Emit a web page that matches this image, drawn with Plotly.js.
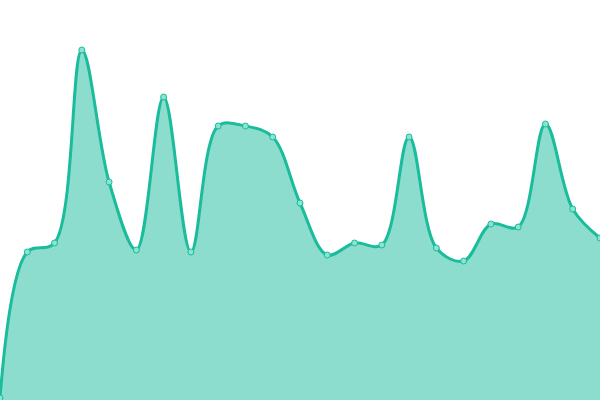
<!DOCTYPE html>
<html>
<head>
<meta charset="utf-8">
<script src="https://cdn.plot.ly/plotly-3.0.1.min.js"></script>
<style>
  html, body { margin: 0; padding: 0; background: #fff; }
  #chart { width: 600px; height: 400px; }
</style>
</head>
<body>
<div id="chart"></div>
<script>
let idx = [0, 1, 2, 3, 4, 5, 6, 7, 8, 9, 10, 11, 12, 13, 14, 15, 16, 17, 18, 19, 20, 21, 22];
let values = [2, 148, 157, 350, 218, 150, 303, 148, 274, 274, 263, 197, 145, 157, 155, 263, 152, 139, 176, 173, 276, 191, 162];

let lineColor = '#1abc9c';

Plotly.newPlot(
  'chart',
  [
    {
      x: idx,
      y: values,
      type: 'scatter',
      mode: 'lines+markers',
      fill: 'tozeroy',
      fillcolor: 'rgba(26,188,156,0.5)',
      line: { shape: 'spline', smoothing: 1, color: lineColor, width: 3 },
      marker: { size: 6, color: '#8be3d1', line: { color: lineColor, width: 1 } },
      cliponaxis: false,
      hoverinfo: 'none',
    },
  ],
  {
    width: 600,
    height: 400,
    margin: { t: 0, r: 0, b: 0, l: 0 },
    paper_bgcolor: '#fff',
    plot_bgcolor: '#fff',
    showlegend: false,
    xaxis: { range: [0, 22], visible: false, fixedrange: true },
    yaxis: { range: [0, 400], visible: false, fixedrange: true },
  },
  { staticPlot: true }
);
</script>
</body>
</html>
